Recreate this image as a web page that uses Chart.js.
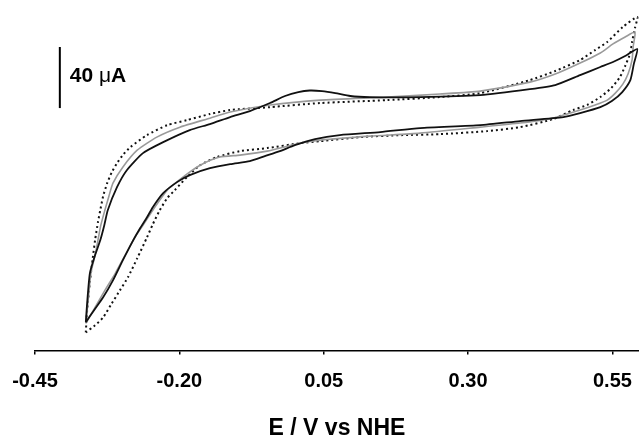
<!DOCTYPE html>
<html>
<head>
<meta charset="utf-8">
<script src="https://cdn.jsdelivr.net/npm/chart.js@4"></script>
<style>
  html, body { margin: 0; padding: 0; background: #fff; overflow: hidden; }
  #wrap { width: 639px; height: 442px; }
</style>
</head>
<body>
<div id="wrap"><canvas id="cv"></canvas></div>
<script>
// potencial (V vs NHE) y corriente (uA, cero arbitrario)
var xTicks = [-0.45, -0.20, 0.05, 0.30, 0.55]

var blackE = [-0.362,-0.360,-0.355,-0.346,-0.337,-0.330,-0.324,-0.308,-0.291,-0.263,-0.228,-0.182,-0.147,-0.112,-0.078,-0.043,-0.017,0.006,0.026,0.047,0.070,0.096,0.130,0.217,0.321,0.407,0.451,0.494,0.529,0.551,0.572,0.593,
              0.587,0.581,0.567,0.549,0.529,0.494,0.465,0.390,0.321,0.217,0.148,0.078,0.035,0.000,-0.026,-0.052,-0.078,-0.112,-0.147,-0.182,-0.204,-0.228,-0.246,-0.256,-0.268,-0.280,-0.298,-0.315,-0.332,-0.348,-0.362]
var blackI = [18.4,29.5,50.5,62.3,72.1,82.0,91.8,106.9,118.0,129.2,136.4,144.3,148.2,152.8,156.7,162.0,166.6,169.2,170.2,169.8,168.5,166.6,165.9,165.9,167.2,171.1,173.8,180.3,185.6,188.9,192.8,197.4,
              187.5,177.0,169.2,163.3,159.3,155.4,152.8,150.2,147.5,145.6,143.0,141.0,138.4,134.4,130.5,127.2,123.9,122.0,119.3,114.8,110.2,103.0,93.8,87.2,80.0,72.1,59.0,45.9,34.8,26.2,18.4]

var grayE = [-0.362,-0.358,-0.353,-0.346,-0.341,-0.336,-0.329,-0.322,-0.315,-0.298,-0.273,-0.239,-0.199,-0.147,-0.112,-0.043,0.044,0.160,0.251,0.321,0.407,0.451,0.494,0.529,0.551,0.572,0.589,
             0.586,0.584,0.577,0.568,0.555,0.541,0.520,0.494,0.447,0.390,0.321,0.217,0.130,0.044,0.009,-0.048,-0.095,-0.130,-0.164,-0.187,-0.221,-0.246,-0.263,-0.277,-0.294,-0.311,-0.329,-0.346,-0.362]
var grayI = [17.7,32.8,51.1,62.3,72.1,82.0,91.8,101.0,109.5,120.0,131.1,139.7,146.2,152.1,156.1,160.7,163.9,165.9,167.9,169.8,175.7,181.0,188.2,194.8,200.7,205.2,208.5,
             199.3,190.2,181.0,174.4,168.5,163.9,160.7,157.4,152.1,148.9,146.2,142.3,140.3,137.7,135.7,130.5,127.9,126.6,121.3,115.4,104.9,91.8,82.0,74.1,62.3,50.5,39.3,28.2,17.7]

var dotE = [-0.362,-0.360,-0.355,-0.350,-0.346,-0.341,-0.337,-0.332,-0.325,-0.317,-0.308,-0.298,-0.285,-0.256,-0.221,-0.187,-0.147,-0.112,-0.043,0.044,0.160,0.251,0.321,0.407,0.451,0.494,0.520,0.541,0.568,0.593,
            0.589,0.584,0.581,0.572,0.563,0.548,0.529,0.506,0.482,0.447,0.390,0.333,0.251,0.187,0.113,0.044,0.009,-0.048,-0.095,-0.135,-0.164,-0.187,-0.208,-0.221,-0.234,-0.246,-0.256,-0.273,-0.289,-0.303,-0.317,-0.332,-0.346,-0.362]
var dotI = [11.8,24.9,44.6,60.3,72.1,83.9,91.8,101.0,109.5,116.7,122.6,127.9,133.1,141.0,147.5,150.8,154.8,157.4,159.3,162.0,163.9,165.9,168.5,177.0,183.0,190.2,196.7,202.0,211.8,218.4,
            211.1,202.0,194.8,186.2,179.0,171.8,165.9,160.7,157.4,151.5,146.2,143.6,141.6,141.0,139.7,137.0,135.7,132.5,130.5,126.6,121.3,113.4,104.9,99.7,91.8,82.6,74.1,60.3,47.9,39.3,30.8,21.6,16.4,11.8]

// barra de escala
var barraE = -0.407
var barraI = [158.7, 198.7]

function puntos(xs, ys) {
    return xs.map(function (x, i) { return { x: x, y: ys[i] } })
}

var fuente = "'Liberation Sans', Arial, sans-serif"

var barraEscala = {
    id: 'barraEscala',
    afterDraw: function (chart) {
        var c = chart.ctx
        var sx = chart.scales.x, sy = chart.scales.y
        var px = sx.getPixelForValue(barraE)
        var y1 = sy.getPixelForValue(barraI[0]), y2 = sy.getPixelForValue(barraI[1])
        c.save()
        c.strokeStyle = '#000'
        c.lineWidth = 2
        c.beginPath()
        c.moveTo(px, y1)
        c.lineTo(px, y2)
        c.stroke()
        c.fillStyle = '#000'
        c.textBaseline = 'middle'
        var ty = (y1 + y2) / 2 - 1
        var tx = px + 10
        c.font = 'bold 21px ' + fuente
        c.fillText('40 ', tx, ty)
        tx += c.measureText('40 ').width
        c.font = '21px ' + fuente
        c.fillText('\u03bc', tx, ty)
        tx += c.measureText('\u03bc').width
        c.font = 'bold 21px ' + fuente
        c.fillText('A', tx, ty)
        c.restore()
    }
}

var ctx = document.getElementById('cv')
var grafico = new Chart(ctx, {
    type: 'scatter',
    data: {
        datasets: [{
            label: 'negra',
            data: puntos(blackE, blackI),
            borderColor: '#111',
            borderWidth: 1.8
        }, {
            label: 'gris',
            data: puntos(grayE, grayI),
            borderColor: '#9a9a9a',
            borderWidth: 1.6
        }, {
            label: 'punteada',
            data: puntos(dotE, dotI),
            borderColor: '#111',
            borderWidth: 2,
            borderDash: [2, 3]
        }]
    },
    options: {
        responsive: true,
        maintainAspectRatio: false,
        animation: false,
        showLine: true,
        elements: {
            point: { radius: 0 },
            line: { tension: 0.2, fill: false }
        },
        layout: { padding: { left: 35, right: 0, top: 5, bottom: 0 } },
        plugins: {
            legend: { display: false },
            tooltip: { enabled: false }
        },
        scales: {
            x: {
                type: 'linear',
                min: -0.45,
                max: 0.596,
                afterBuildTicks: function (scale) {
                    scale.ticks = xTicks.map(function (v) { return { value: v } })
                },
                afterFit: function (scale) {
                    scale.paddingLeft = 0
                    scale.paddingRight = 0
                },
                ticks: {
                    color: '#000',
                    padding: 15,
                    maxRotation: 0,
                    font: { family: fuente, size: 20, weight: 'bold' },
                    callback: function (v) { return v.toFixed(2) }
                },
                grid: { drawOnChartArea: false, drawTicks: true, tickLength: 4, color: '#000', lineWidth: 1.5 },
                border: { display: true, color: '#000', width: 1.5 },
                title: {
                    display: true,
                    text: 'E / V vs NHE',
                    color: '#000',
                    padding: { top: 6, bottom: 0 },
                    font: { family: fuente, size: 23, weight: 'bold' }
                }
            },
            y: {
                display: false,
                min: 0,
                max: 226.2
            }
        }
    },
    plugins: [barraEscala]
})
</script>
</body>
</html>
